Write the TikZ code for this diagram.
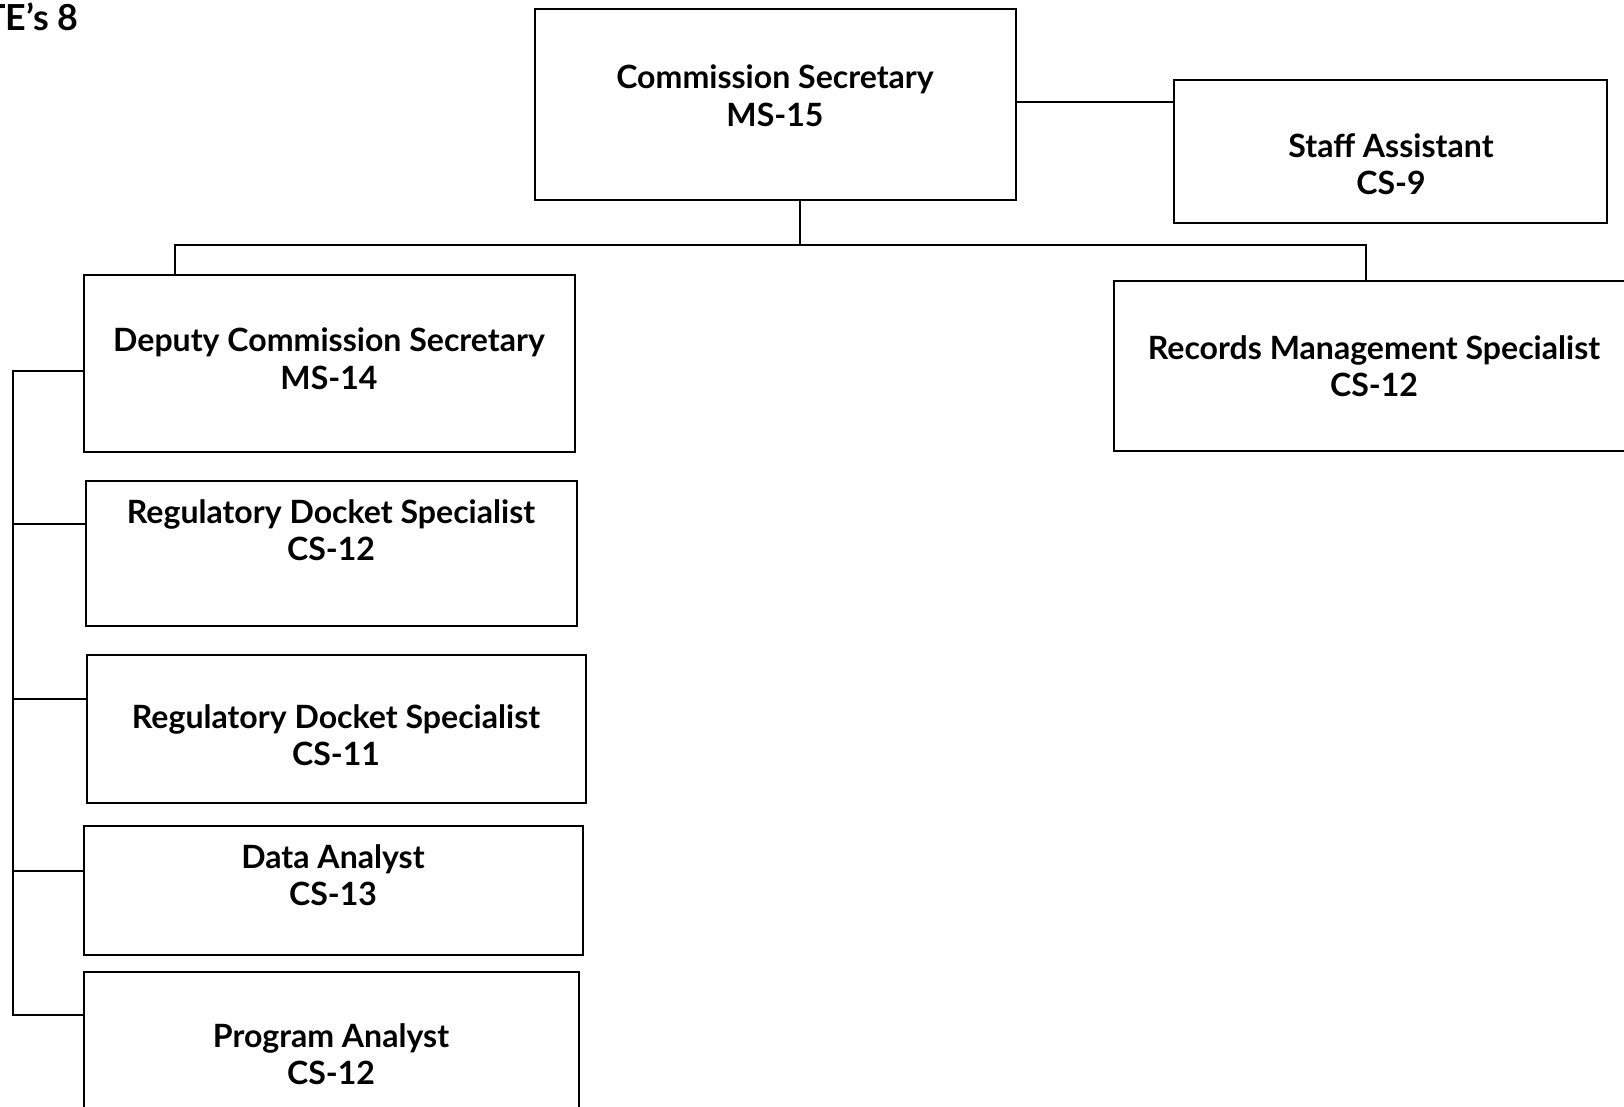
\documentclass[tikz,border=0pt]{standalone}
\usepackage{fontspec}
\setmainfont{Lato}
\usetikzlibrary{positioning}
\usetikzlibrary{fit}

\begin{document}
\begin{tikzpicture}[x=0.025cm,y=-0.025cm,
  post/.style={draw=black,line width=1.3pt,inner sep=0pt},
  postname/.style={font=\fontsize{22.8}{26.7}\selectfont\bfseries,align=center},
  link/.style={line width=1.1pt}]
\useasboundingbox (0,0) rectangle (1624,1106);
\clip (0,0) rectangle (1624,1106);

\node[font=\fontsize{25.5}{29}\selectfont\bfseries,anchor=base east,inner sep=0pt] (fte) at (79,30) {FTE’s 8};

% boxes
\node[post,fit={(535,9) (1016,200)}] (cs) {};
\node[post,fit={(1174,80) (1607,223)}] (sa) {};
\node[post,fit={(1114,281) (1660,451)}] (rec) {};
\node[post,fit={(84,275) (575,452)}] (dep) {};
\node[post,fit={(86,481) (577,626)}] (rd12) {};
\node[post,fit={(87,655) (586,803)}] (rd11) {};
\node[post,fit={(84,826) (583,955)}] (da) {};
\node[post,fit={(84,972) (579,1130)}] (pa) {};

% titles
\node[postname] (cstxt) at (775,96) {Commission Secretary\\MS-15};
\node[postname] (satxt) at (1391,164) {Staff Assistant\\CS-9};
\node[postname] (rectxt) at (1374,366) {Records Management Specialist\\CS-12};
\node[postname] (deptxt) at (329,359) {Deputy Commission Secretary\\MS-14};
\node[postname] (rd12txt) at (331,530) {Regulatory Docket Specialist\\CS-12};
\node[postname] (rd11txt) at (336,735) {Regulatory Docket Specialist\\CS-11};
\node[postname] (datxt) at (333,875) {Data Analyst\\CS-13};
\node[postname] (patxt) at (331,1054) {Program Analyst\\CS-12};

% lines
\coordinate (busL) at (175,245);
\coordinate (busM) at (800,245);
\coordinate (busR) at (1366,245);
\coordinate (saJ) at (1016,102);
\coordinate (spT) at (13,371);
\coordinate (spB) at (13,1015);

\draw[link] (busM |- cs.south) -- (busM);
\draw[link] (busL |- dep.north) -- (busL) -- (busR) -- (busR |- rec.north);
\draw[link] (saJ) -- (saJ -| sa.west);
\draw[link] (dep.west |- spT) -- (spT) -- (spB) -- (pa.west |- spB);
\draw[link] (13,524) -- (rd12.west |- 0,524);
\draw[link] (13,699) -- (rd11.west |- 0,699);
\draw[link] (13,871) -- (da.west |- 0,871);

\end{tikzpicture}
\end{document}
